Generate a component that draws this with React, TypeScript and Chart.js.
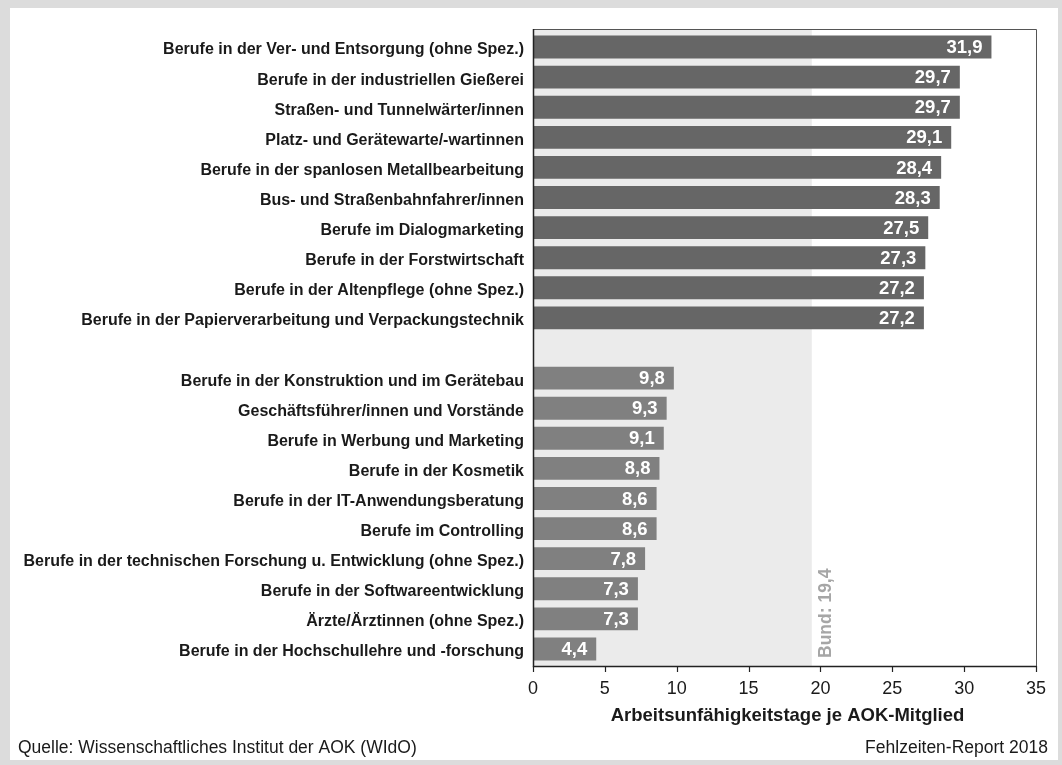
import React, { useEffect, useRef } from "react";
import { Chart, registerables } from "chart.js";

Chart.register(...registerables);

const categories: string[] = [
  "Berufe in der Ver- und Entsorgung (ohne Spez.)",
  "Berufe in der industriellen Gießerei",
  "Straßen- und Tunnelwärter/innen",
  "Platz- und Gerätewarte/-wartinnen",
  "Berufe in der spanlosen Metallbearbeitung",
  "Bus- und Straßenbahnfahrer/innen",
  "Berufe im Dialogmarketing",
  "Berufe in der Forstwirtschaft",
  "Berufe in der Altenpflege (ohne Spez.)",
  "Berufe in der Papierverarbeitung und Verpackungstechnik",
  "",
  "Berufe in der Konstruktion und im Gerätebau",
  "Geschäftsführer/innen und Vorstände",
  "Berufe in Werbung und Marketing",
  "Berufe in der Kosmetik",
  "Berufe in der IT-Anwendungsberatung",
  "Berufe im Controlling",
  "Berufe in der technischen Forschung u. Entwicklung (ohne Spez.)",
  "Berufe in der Softwareentwicklung",
  "Ärzte/Ärztinnen (ohne Spez.)",
  "Berufe in der Hochschullehre und -forschung",
];

const values: (number | null)[] = [
  31.9, 29.7, 29.7, 29.1, 28.4, 28.3, 27.5, 27.3, 27.2, 27.2,
  null,
  9.8, 9.3, 9.1, 8.8, 8.6, 8.6, 7.8, 7.3, 7.3, 4.4,
];

const xTicks: number[] = [0, 5, 10, 15, 20, 25, 30, 35];
const bundValue = 19.4;
const bundLabel = "Bund: 19,4";
const xTitle = "Arbeitsunfähigkeitstage je AOK-Mitglied";
const sourceText = "Quelle: Wissenschaftliches Institut der AOK (WIdO)";
const reportText = "Fehlzeiten-Report 2018";

const FONT = "'Liberation Sans', Arial, Helvetica, sans-serif";
const fmt = (v: number) => v.toFixed(1).replace(".", ",");

export default function App() {
  const ref = useRef<HTMLCanvasElement | null>(null);

  useEffect(() => {
    document.body.style.margin = "0";
    const canvas = ref.current;
    if (!canvas) return;

    const framePlugin = {
      id: "framePlugin",
      beforeDraw(chart: any) {
        const ctx = chart.ctx;
        const { left, top, bottom } = chart.chartArea;
        const W = chart.width;
        const H = chart.height;
        ctx.save();
        ctx.fillStyle = "#dcdcdc";
        ctx.fillRect(0, 0, W, H);
        ctx.fillStyle = "#ffffff";
        ctx.fillRect(10, 8, 1048, 752);
        const xs = chart.scales.x;
        const xb = xs.getPixelForValue(bundValue);
        ctx.fillStyle = "#ebebeb";
        ctx.fillRect(left, top - 3, xb - left, bottom + 2 - (top - 3));
        ctx.restore();
      },
      afterDatasetsDraw(chart: any) {
        const ctx = chart.ctx;
        const { left, right, top, bottom } = chart.chartArea;
        const xs = chart.scales.x;
        const meta = chart.getDatasetMeta(0);
        ctx.save();
        ctx.font = `bold 18.5px ${FONT}`;
        ctx.fillStyle = "#ffffff";
        ctx.textAlign = "right";
        ctx.textBaseline = "middle";
        meta.data.forEach((bar: any, i: number) => {
          const v = values[i];
          if (v == null) return;
          ctx.fillText(fmt(v), bar.x - 9, bar.y + 1);
        });
        const fTop = top - 3;
        const fBot = bottom + 2;
        ctx.strokeStyle = "#555555";
        ctx.lineWidth = 1;
        ctx.beginPath();
        ctx.moveTo(left + 0.5, fTop + 0.5);
        ctx.lineTo(right + 0.5, fTop + 0.5);
        ctx.lineTo(right + 0.5, fBot + 0.5);
        ctx.stroke();
        ctx.strokeStyle = "#222222";
        ctx.lineWidth = 1.5;
        ctx.beginPath();
        ctx.moveTo(left + 0.5, fTop);
        ctx.lineTo(left + 0.5, fBot + 0.5);
        ctx.lineTo(right + 0.5, fBot + 0.5);
        ctx.stroke();
        ctx.lineWidth = 1.2;
        xTicks.forEach((t) => {
          const x = Math.round(xs.getPixelForValue(t)) + 0.5;
          ctx.beginPath();
          ctx.moveTo(x, fBot);
          ctx.lineTo(x, fBot + 6);
          ctx.stroke();
        });
        ctx.fillStyle = "#1a1a1a";
        ctx.font = `18px ${FONT}`;
        ctx.textAlign = "center";
        ctx.textBaseline = "middle";
        xTicks.forEach((t) => {
          ctx.fillText(String(t), xs.getPixelForValue(t), 689);
        });
        ctx.font = `bold 18.5px ${FONT}`;
        ctx.fillText(xTitle, (left + right) / 2 + 3, 716);
        const xb = xs.getPixelForValue(bundValue);
        ctx.save();
        ctx.translate(xb + 14, fBot - 8);
        ctx.rotate(-Math.PI / 2);
        ctx.font = `bold 17.5px ${FONT}`;
        ctx.fillStyle = "#a6a6a6";
        ctx.textAlign = "left";
        ctx.textBaseline = "middle";
        ctx.fillText(bundLabel, 0, 0);
        ctx.restore();
        ctx.fillStyle = "#1a1a1a";
        ctx.font = `17.5px ${FONT}`;
        ctx.textBaseline = "middle";
        ctx.textAlign = "left";
        ctx.fillText(sourceText, 18, 748);
        ctx.textAlign = "right";
        ctx.fillText(reportText, 1048, 748);
        ctx.restore();
      },
    };

    const chart = new Chart(canvas, {
      type: "bar",
      data: {
        labels: categories,
        datasets: [
          {
            data: values as any,
            backgroundColor: values.map((v, i) => (i < 10 ? "#666666" : "#808080")),
            barPercentage: 1,
            categoryPercentage: 0.76,
            borderWidth: 0,
          },
        ],
      },
      options: {
        indexAxis: "y",
        animation: false,
        responsive: false,
        maintainAspectRatio: false,
        events: [],
        layout: { padding: { left: 0, top: 32, right: 26, bottom: 0 } },
        plugins: {
          legend: { display: false },
          tooltip: { enabled: false },
          title: { display: false },
        },
        scales: {
          x: {
            type: "linear",
            min: 0,
            max: 35,
            grid: { display: false },
            border: { display: false },
            ticks: { display: false, stepSize: 5 },
            afterFit(scale: any) {
              scale.height = 765 - 32 - 632;
            },
          },
          y: {
            type: "category",
            grid: { display: false, drawTicks: false },
            border: { display: false },
            ticks: {
              color: "#1a1a1a",
              font: { family: FONT, size: 16, weight: "bold" },
              padding: 9,
              labelOffset: 3,
              autoSkip: false,
            },
            afterFit(scale: any) {
              scale.width = 533;
            },
          },
        },
      },
      plugins: [framePlugin],
    });

    return () => chart.destroy();
  }, []);

  return (
    <div style={{ position: "absolute", left: 0, top: 0, width: 1062, height: 765 }}>
      <canvas ref={ref} width={1062} height={765} style={{ width: 1062, height: 765, display: "block" }} />
    </div>
  );
}
